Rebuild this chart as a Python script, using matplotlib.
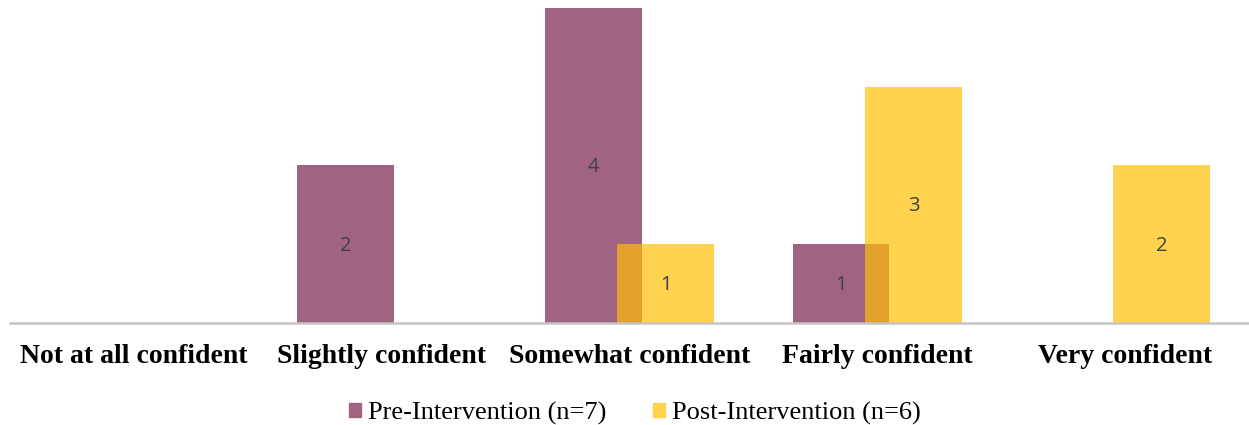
import matplotlib
matplotlib.use("Agg")
import matplotlib.pyplot as plt
from matplotlib.patches import Rectangle, Patch
import numpy as np

categories = ["Not at all confident", "Slightly confident", "Somewhat confident",
              "Fairly confident", "Very confident"]
pre_values = [0, 2, 4, 1, 0]
post_values = [0, 0, 1, 3, 2]
series_names = ["Pre-Intervention (n=7)", "Post-Intervention (n=6)"]

pre_color = "#A06482"
post_color = "#FFD24F"
overlap_color = "#E2A22C"
label_color = "#404040"

fig = plt.figure(figsize=(12.49, 4.25), dpi=100)
ax = fig.add_axes([10 / 1249, 102 / 425, 1239 / 1249, 323 / 425])

x = np.arange(len(categories))
width = 0.39
offset = 0.146

pre_bars = ax.bar(x - offset, pre_values, width, color=pre_color, zorder=2)
post_bars = ax.bar(x + offset, post_values, width, color=post_color, zorder=3)

# Shade the region where the two series' bars overlap
for xi, a, b in zip(x, pre_values, post_values):
    h = min(a, b)
    if h > 0:
        left = xi + offset - width / 2
        right = xi - offset + width / 2
        ax.add_patch(Rectangle((left, 0), right - left, h, color=overlap_color,
                               zorder=4, linewidth=0))

# Value labels centred inside each bar
for bars, vals in ((pre_bars, pre_values), (post_bars, post_values)):
    for bar, v in zip(bars, vals):
        if v > 0:
            ax.text(bar.get_x() + bar.get_width() / 2, v / 2 - 0.02, str(v),
                    ha="center", va="center", fontsize=14.5, color=label_color,
                    family="Open Sans", zorder=5)

ax.set_xlim(-0.5, len(categories) - 0.5)
ax.set_ylim(0, 4.1)
ax.set_yticks([])
ax.set_xticks(x)
ax.set_xticklabels(categories, family="Liberation Serif", fontweight="bold",
                   fontsize=20, color="black")
ax.tick_params(axis="x", length=0, pad=15)
for side in ("top", "left", "right"):
    ax.spines[side].set_visible(False)
ax.spines["bottom"].set_color("#C4C4C4")
ax.spines["bottom"].set_linewidth(1.8)
ax.spines["bottom"].set_zorder(6)

handles = [Patch(color=pre_color), Patch(color=post_color)]
fig.legend(handles, series_names, loc="center", bbox_to_anchor=(635 / 1249, 12 / 425),
           ncol=2, frameon=False, prop={"family": "Liberation Serif", "size": 19},
           handlelength=0.46, handleheight=0.46, handletextpad=0.28, columnspacing=1.75)

fig.savefig("out.png", dpi=100)
